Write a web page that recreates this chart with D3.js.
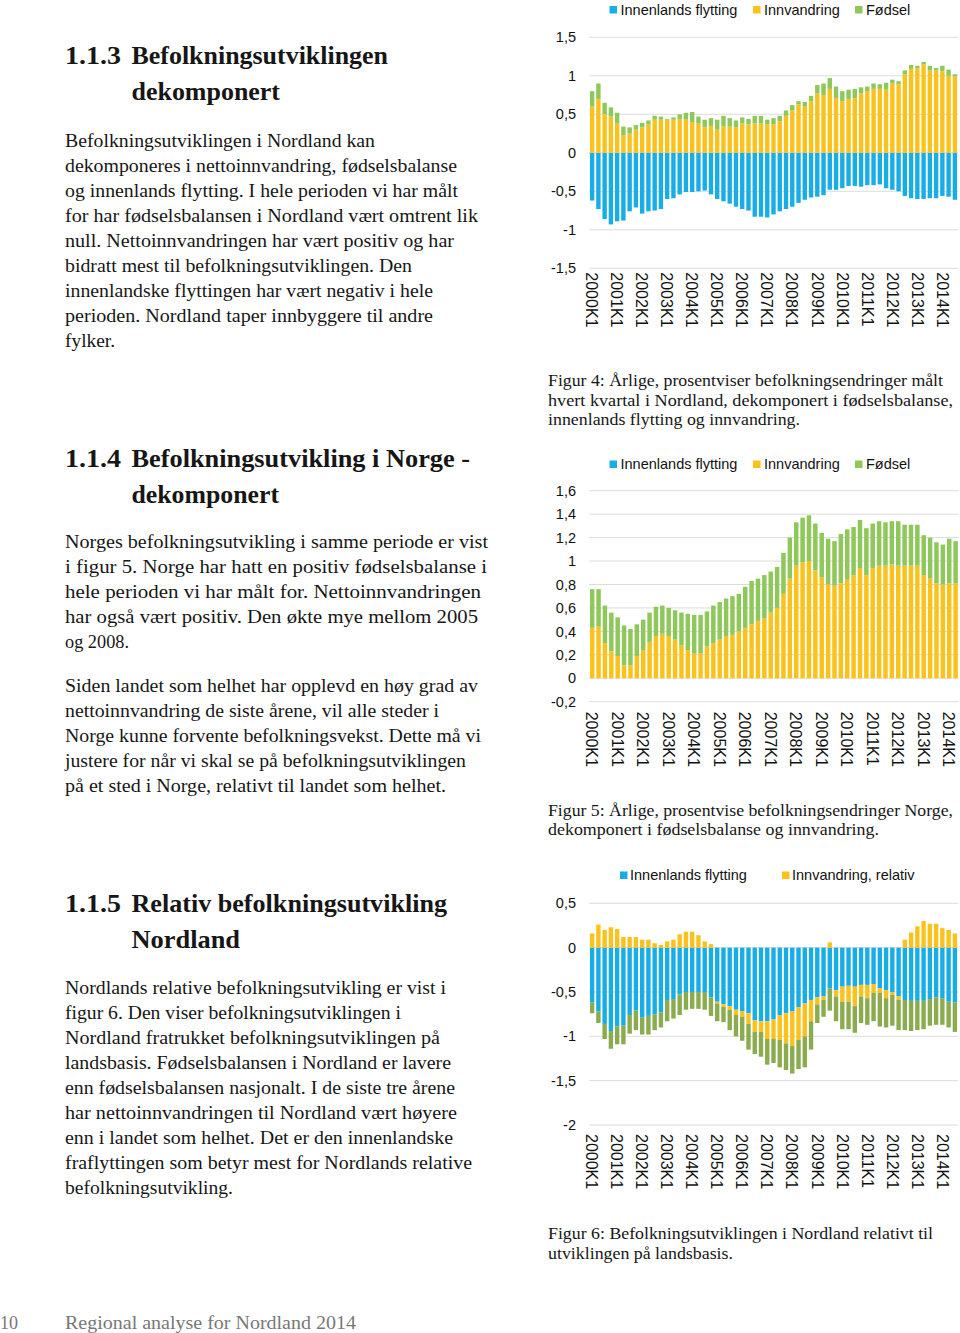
<!DOCTYPE html>
<html><head><meta charset="utf-8">
<script src="https://cdn.jsdelivr.net/npm/d3@7"></script>
<style>body{margin:0;background:#fff;} svg{display:block;}</style>
</head><body>
<svg id="page" width="960" height="1333"></svg>
<script>
// ---------- DATA ----------
const years = [2000,2001,2002,2003,2004,2005,2006,2007,2008,2009,2010,2011,2012,2013,2014];
const quarters = ["K1","K2","K3","K4"];

// Figur 4: Nordland (59 quarters, 2000K1–2014K3)
const nordlandInnenlands = [-0.62,-0.73,-0.86,-0.93,-0.89,-0.88,-0.76,-0.71,-0.79,-0.76,
  -0.75,-0.73,-0.60,-0.59,-0.54,-0.51,-0.51,-0.50,-0.49,-0.54,
  -0.60,-0.63,-0.66,-0.70,-0.73,-0.75,-0.83,-0.83,-0.84,-0.80,
  -0.76,-0.73,-0.70,-0.65,-0.61,-0.58,-0.57,-0.55,-0.48,-0.48,
  -0.46,-0.43,-0.43,-0.44,-0.42,-0.42,-0.41,-0.46,-0.48,-0.50,
  -0.56,-0.59,-0.60,-0.60,-0.59,-0.59,-0.56,-0.57,-0.61];
const nordlandInnvandring = [0.60,0.70,0.50,0.47,0.38,0.23,0.25,0.30,0.33,0.37,
  0.43,0.43,0.43,0.43,0.44,0.43,0.40,0.38,0.33,0.35,
  0.30,0.34,0.34,0.33,0.38,0.37,0.38,0.38,0.37,0.37,
  0.41,0.48,0.55,0.63,0.60,0.67,0.77,0.75,0.83,0.71,
  0.67,0.70,0.71,0.77,0.80,0.83,0.83,0.82,0.90,0.89,
  1.02,1.09,1.10,1.15,1.07,1.07,1.06,1.00,0.99];
const nordlandFodsel = [0.20,0.20,0.15,0.12,0.14,0.11,0.08,0.06,0.06,0.05,
  0.05,0.04,0.01,0.03,0.06,0.09,0.13,0.09,0.10,0.10,
  0.13,0.14,0.11,0.09,0.08,0.07,0.10,0.10,0.06,0.08,
  0.07,0.07,0.07,0.04,0.06,0.07,0.11,0.15,0.14,0.15,
  0.13,0.12,0.12,0.08,0.06,0.07,0.06,0.09,0.05,0.04,
  0.05,0.05,0.03,0.03,0.06,0.03,0.07,0.08,0.03];

// Figur 5: Norge (58 quarters, 2000K1–2014K2)
const norgeInnvandring = [0.43,0.44,0.30,0.23,0.19,0.11,0.11,0.19,0.24,0.31,
  0.36,0.38,0.36,0.33,0.28,0.24,0.21,0.21,0.27,0.30,
  0.33,0.36,0.37,0.40,0.43,0.46,0.49,0.51,0.56,0.60,
  0.72,0.85,0.96,0.99,1.00,0.92,0.86,0.80,0.79,0.81,
  0.84,0.88,0.94,0.88,0.94,0.96,0.96,0.97,0.96,0.96,
  0.96,0.96,0.88,0.85,0.81,0.80,0.81,0.81];
const norgeFodsel = [0.33,0.32,0.32,0.33,0.33,0.34,0.31,0.27,0.26,0.25,
  0.25,0.24,0.24,0.25,0.28,0.31,0.33,0.33,0.30,0.32,
  0.32,0.32,0.33,0.32,0.35,0.37,0.36,0.37,0.35,0.35,
  0.35,0.35,0.37,0.38,0.39,0.40,0.38,0.39,0.38,0.42,
  0.43,0.41,0.41,0.40,0.38,0.38,0.37,0.37,0.38,0.35,
  0.35,0.35,0.34,0.35,0.35,0.34,0.38,0.36];

// Figur 6: Nordland relativt til landet (59 quarters)
const relInnenlands = [-0.62,-0.72,-0.86,-0.94,-0.89,-0.88,-0.76,-0.71,-0.79,-0.77,
  -0.75,-0.73,-0.59,-0.58,-0.53,-0.50,-0.50,-0.50,-0.50,-0.56,
  -0.61,-0.64,-0.66,-0.70,-0.72,-0.74,-0.82,-0.83,-0.83,-0.81,
  -0.76,-0.74,-0.72,-0.67,-0.63,-0.59,-0.56,-0.55,-0.46,-0.48,
  -0.44,-0.43,-0.44,-0.42,-0.42,-0.41,-0.46,-0.48,-0.50,-0.55,
  -0.59,-0.60,-0.60,-0.60,-0.58,-0.56,-0.57,-0.61,-0.62];
const relInnvandring = [0.16,0.26,0.20,0.23,0.21,0.12,0.12,0.12,0.09,0.09,
  0.05,0.03,0.07,0.09,0.15,0.18,0.18,0.14,0.07,0.04,
  -0.02,-0.03,-0.04,-0.06,-0.06,-0.12,-0.13,-0.12,-0.20,-0.22,
  -0.28,-0.34,-0.39,-0.37,-0.37,-0.24,-0.08,-0.04,0.06,-0.07,
  -0.17,-0.18,-0.22,-0.13,-0.15,-0.10,-0.05,-0.09,-0.03,-0.04,
  0.09,0.17,0.24,0.30,0.27,0.27,0.22,0.20,0.16];
const relFodsel = [-0.12,-0.13,-0.17,-0.20,-0.20,-0.21,-0.21,-0.22,-0.19,-0.21,
  -0.18,-0.17,-0.24,-0.22,-0.23,-0.20,-0.19,-0.19,-0.20,-0.21,
  -0.20,-0.17,-0.23,-0.24,-0.27,-0.29,-0.25,-0.28,-0.29,-0.27,
  -0.31,-0.30,-0.31,-0.33,-0.35,-0.32,-0.21,-0.19,-0.25,-0.28,
  -0.31,-0.31,-0.30,-0.30,-0.30,-0.32,-0.38,-0.33,-0.35,-0.34,
  -0.34,-0.34,-0.33,-0.32,-0.30,-0.31,-0.30,-0.29,-0.33];

const ticks1 = [1.5,1,0.5,0,-0.5,-1,-1.5];
const ticks2 = [1.6,1.4,1.2,1,0.8,0.6,0.4,0.2,0,-0.2];
const ticks3 = [0.5,0,-0.5,-1,-1.5,-2];

// ---------- PAGE ----------
const svg = d3.select("#page");
svg.append("rect").attr("width",960).attr("height",1333).attr("fill","#fff");

const SERIF = "'Liberation Serif','Times New Roman',serif";
const SANS = "'Liberation Sans',Arial,Helvetica,sans-serif";
const BLUE = "#17ade6", YELLOW = "#fcc21c", GREEN = "#8ec75a", OLIVE = "#8aab4e";

function line(t, x, y, right, size, opts={}) {
  const el = svg.append("text").attr("x", x).attr("y", y)
    .attr("font-family", SERIF).attr("font-size", size)
    .attr("fill", opts.fill || "#161616")
    .attr("font-weight", opts.weight || "normal")
    .text(t);
  if (right) el.attr("textLength", right - x).attr("lengthAdjust", "spacingAndGlyphs");
  return el;
}
function heading(num, lines, y0) {
  line(num, 65, y0, 121, 25, {weight: "bold"});
  lines.forEach((l, i) => line(l[0], 131.5, y0 + i*36, l[1], 25, {weight: "bold"}));
}
function para(lines, y0) {
  lines.forEach((l, i) => line(l[0], 65, y0 + i*25, l[1], 18.5));
}

heading("1.1.3", [["Befolkningsutviklingen", 388], ["dekomponert", 280]], 63.5);
para([
  ["Befolkningsutviklingen i Nordland kan", 375],
  ["dekomponeres i nettoinnvandring, fødselsbalanse", 457],
  ["og innenlands flytting. I hele perioden vi har målt", 458],
  ["for har fødselsbalansen i Nordland vært omtrent lik", 478],
  ["null. Nettoinnvandringen har vært positiv og har", 454],
  ["bidratt mest til befolkningsutviklingen. Den", 412],
  ["innenlandske flyttingen har vært negativ i hele", 433],
  ["perioden. Nordland taper innbyggere til andre", 433],
  ["fylker.", 115]
], 146.7);

heading("1.1.4", [["Befolkningsutvikling i Norge -", 470], ["dekomponert", 279]], 466.5);
para([
  ["Norges befolkningsutvikling i samme periode er vist", 488],
  ["i figur 5. Norge har hatt en positiv fødselsbalanse i", 487],
  ["hele perioden vi har målt for. Nettoinnvandringen", 481],
  ["har også vært positiv. Den økte mye mellom 2005", 478],
  ["og 2008.", 129]
], 548);
para([
  ["Siden landet som helhet har opplevd en høy grad av", 478],
  ["nettoinnvandring de siste årene, vil alle steder i", 439],
  ["Norge kunne forvente befolkningsvekst. Dette må vi", 481],
  ["justere for når vi skal se på befolkningsutviklingen", 466],
  ["på et sted i Norge, relativt til landet som helhet.", 446]
], 691.5);

heading("1.1.5", [["Relativ befolkningsutvikling", 447], ["Nordland", 240]], 911.5);
para([
  ["Nordlands relative befolkningsutvikling er vist i", 446],
  ["figur 6. Den viser befolkningsutviklingen i", 401],
  ["Nordland fratrukket befolkningsutviklingen på", 440],
  ["landsbasis. Fødselsbalansen i Nordland er lavere", 451],
  ["enn fødselsbalansen nasjonalt. I de siste tre årene", 455],
  ["har nettoinnvandringen til Nordland vært høyere", 457],
  ["enn i landet som helhet. Det er den innenlandske", 453],
  ["fraflyttingen som betyr mest for Nordlands relative", 472],
  ["befolkningsutvikling.", 233]
], 994);

// captions
function caption(lines, y0) {
  lines.forEach((l, i) => line(l[0], 548, y0 + i*19.7, l[1], 16.5));
}
caption([
  ["Figur 4: Årlige, prosentviser befolkningsendringer målt", 943],
  ["hvert kvartal i Nordland, dekomponert i fødselsbalanse,", 953],
  ["innenlands flytting og innvandring.", 800]
], 386);
caption([
  ["Figur 5: Årlige, prosentvise befolkningsendringer Norge,", 953],
  ["dekomponert i fødselsbalanse og innvandring.", 879]
], 815.5);
caption([
  ["Figur 6: Befolkningsutviklingen i Nordland relativt til", 933],
  ["utviklingen på landsbasis.", 733]
], 1239);

// footer
line("10", 0, 1329, 18, 18.5, {fill: "#777"});
line("Regional analyse for Nordland 2014", 65, 1329, 356, 18.5, {fill: "#777"});

// ---------- CHARTS ----------
const allQuarters = [];
years.forEach(y => quarters.forEach(q => allQuarters.push(y + q)));
const fmt = d => String(d).replace(".", ",");

function drawChart(cfg) {
  const n = cfg.series[0].values.length;
  const cats = allQuarters.slice(0, n);
  const x = d3.scaleBand().domain(cats).range([cfg.x0, cfg.x1]).paddingInner(0.3).paddingOuter(0.15);
  const y = d3.scaleLinear().domain(cfg.domain).range([cfg.yBottom, cfg.yTop]);
  const g = svg.append("g");

  // gridlines
  g.append("g").selectAll("line").data(cfg.ticks).join("line")
    .attr("x1", cfg.x0).attr("x2", cfg.x1)
    .attr("y1", d => y(d)).attr("y2", d => y(d))
    .attr("stroke", "#dcdcdc").attr("stroke-width", 1);

  // y axis labels
  const ya = g.append("g").attr("transform", `translate(${cfg.x0},0)`)
    .call(d3.axisLeft(y).tickValues(cfg.ticks).tickFormat(fmt).tickSize(0).tickPadding(13));
  ya.select(".domain").remove();
  ya.selectAll("text").attr("font-family", SANS).attr("font-size", 14.5).attr("fill", "#111");

  // stacked bars
  const rows = cats.map((c, i) => {
    const r = {cat: c};
    cfg.series.forEach(s => r[s.key] = s.values[i]);
    return r;
  });
  const stack = d3.stack().keys(cfg.series.map(s => s.key)).offset(d3.stackOffsetDiverging)(rows);
  stack.forEach((layer, li) => {
    g.append("g").attr("fill", cfg.series[li].color)
      .selectAll("rect").data(layer).join("rect")
      .attr("x", d => x(d.data.cat))
      .attr("width", x.bandwidth())
      .attr("y", d => y(Math.max(d[0], d[1])))
      .attr("height", d => Math.abs(y(d[0]) - y(d[1])));
  });

  // x axis labels (rotated, reading top to bottom)
  const xa = g.append("g").attr("transform", `translate(0,${cfg.yBottom})`)
    .call(d3.axisBottom(x).tickValues(cats.filter(c => c.endsWith("K1"))).tickSize(0).tickPadding(0));
  xa.select(".domain").remove();
  xa.selectAll("text")
    .attr("font-family", SANS).attr("font-size", 16).attr("fill", "#111")
    .attr("transform", "rotate(90)")
    .attr("x", cfg.labelGap).attr("y", 0).attr("dy", "0.36em")
    .attr("text-anchor", "start");

  // legend
  cfg.legend.forEach(l => {
    g.append("rect").attr("x", l.sx).attr("y", cfg.legendY - 8.5).attr("width", 7.5).attr("height", 7.5).attr("fill", l.color);
    g.append("text").attr("x", l.tx).attr("y", cfg.legendY)
      .attr("font-family", SANS).attr("font-size", 14.5).attr("fill", "#111").text(l.label);
  });
}

drawChart({
  x0: 589, x1: 958, yTop: 37.3, yBottom: 268.3, domain: [-1.5, 1.5], ticks: ticks1, labelGap: 4,
  series: [
    {key: "Innenlands flytting", values: nordlandInnenlands, color: BLUE},
    {key: "Innvandring", values: nordlandInnvandring, color: YELLOW},
    {key: "Fødsel", values: nordlandFodsel, color: GREEN}
  ],
  legendY: 14.5,
  legend: [
    {label: "Innenlands flytting", color: BLUE, sx: 609.5, tx: 620.5},
    {label: "Innvandring", color: YELLOW, sx: 753, tx: 764},
    {label: "Fødsel", color: GREEN, sx: 855, tx: 866}
  ]
});

drawChart({
  x0: 589, x1: 958.8, yTop: 490.7, yBottom: 701.7, domain: [-0.2, 1.6], ticks: ticks2, labelGap: 10,
  series: [
    {key: "Innvandring", values: norgeInnvandring, color: YELLOW},
    {key: "Fødsel", values: norgeFodsel, color: GREEN}
  ],
  legendY: 469,
  legend: [
    {label: "Innenlands flytting", color: BLUE, sx: 609.5, tx: 620.5},
    {label: "Innvandring", color: YELLOW, sx: 753, tx: 764},
    {label: "Fødsel", color: GREEN, sx: 855, tx: 866}
  ]
});

drawChart({
  x0: 589, x1: 958, yTop: 903.3, yBottom: 1125, domain: [-2, 0.5], ticks: ticks3, labelGap: 9,
  series: [
    {key: "Innenlands flytting", values: relInnenlands, color: BLUE},
    {key: "Innvandring, relativ", values: relInnvandring, color: YELLOW},
    {key: "Fødsel, relativ", values: relFodsel, color: OLIVE}
  ],
  legendY: 880,
  legend: [
    {label: "Innenlands flytting", color: BLUE, sx: 620, tx: 630},
    {label: "Innvandring, relativ", color: YELLOW, sx: 782, tx: 792}
  ]
});
</script>
</body></html>
